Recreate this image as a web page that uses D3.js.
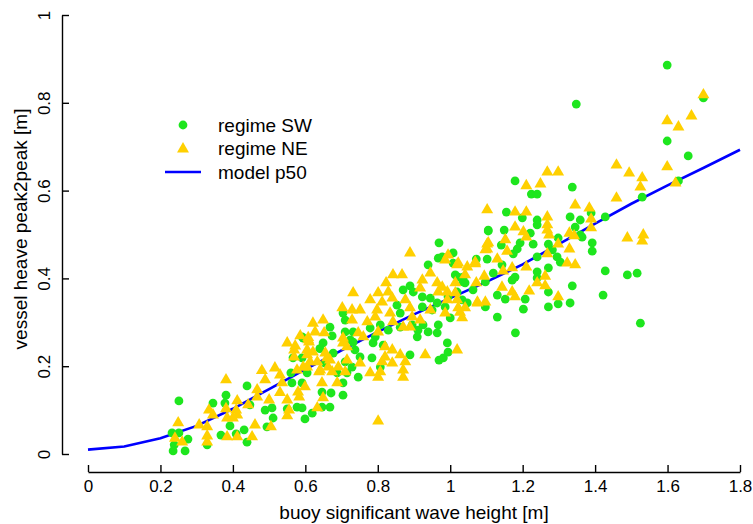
<!DOCTYPE html>
<html>
<head>
<meta charset="utf-8">
<script src="https://cdn.jsdelivr.net/npm/d3@7"></script>
<style>
  body { margin: 0; background: #fff; }
  text { font-family: "Liberation Sans", Arial, sans-serif; font-size: 19px; fill: #000; }
</style>
</head>
<body>
<svg id="chart"></svg>
<script>
// regime SW (green circles)
var swX = [0.251,0.232,0.251,0.276,0.238,0.235,0.268,0.329,0.345,0.381,0.378,0.367,0.392,0.409,0.431,0.439,0.439,0.447,0.489,0.511,
  0.508,0.494,0.550,0.577,0.591,0.599,0.619,0.646,0.668,0.671,0.646,0.591,0.605,0.563,0.704,0.715,0.704,0.649,0.674,0.591,
  0.591,0.566,0.710,0.969,1.105,0.939,0.967,1.008,1.072,1.036,1.014,1.119,1.130,1.097,0.889,0.898,0.923,0.945,0.923,0.950,
  0.964,0.986,0.994,1.019,1.033,1.041,0.895,0.911,0.925,0.939,0.909,0.967,0.964,0.992,0.981,0.969,0.994,0.889,0.862,0.862,
  0.853,0.829,0.807,0.793,0.779,0.787,0.815,0.784,0.807,0.751,0.737,0.732,0.732,0.724,0.710,0.729,0.746,0.710,0.704,0.677,
  0.655,0.688,0.594,0.668,0.870,1.008,1.141,1.179,1.224,1.240,1.337,1.155,1.199,1.240,1.240,1.105,1.149,1.221,1.229,1.193,
  1.185,1.174,1.143,1.102,1.240,1.271,1.298,1.282,1.295,1.304,1.331,1.359,1.345,1.364,1.392,1.392,1.428,1.428,1.489,1.516,
  1.422,1.337,1.271,1.240,1.240,1.271,1.271,1.298,1.331,1.202,1.207,1.171,1.179,1.097,1.130,1.152,1.063,1.047,1.022,1.036,
  1.000,0.978,1.525,1.599,1.599,1.657,1.699,1.630,1.530,1.389,1.359,1.348,1.180,0.640,0.560];
var swY = [0.121,0.048,0.048,0.034,0.021,0.007,0.007,0.021,0.116,0.134,0.116,0.043,0.064,0.046,0.055,0.027,0.155,0.112,0.100,0.082,
  0.105,0.062,0.103,0.107,0.105,0.080,0.093,0.107,0.107,0.139,0.141,0.162,0.185,0.162,0.162,0.185,0.134,0.253,0.269,0.267,
  0.219,0.219,0.278,0.481,0.508,0.431,0.446,0.435,0.444,0.403,0.408,0.412,0.312,0.335,0.383,0.369,0.358,0.355,0.335,0.328,
  0.344,0.335,0.358,0.369,0.351,0.390,0.294,0.282,0.294,0.278,0.267,0.294,0.276,0.253,0.219,0.214,0.232,0.226,0.289,0.321,
  0.339,0.282,0.294,0.267,0.287,0.253,0.248,0.219,0.198,0.221,0.237,0.255,0.278,0.260,0.210,0.198,0.175,0.305,0.321,0.230,
  0.207,0.185,0.264,0.289,0.374,0.458,0.476,0.622,0.592,0.592,0.608,0.551,0.538,0.533,0.522,0.510,0.510,0.503,0.478,0.481,
  0.467,0.456,0.431,0.444,0.449,0.478,0.492,0.465,0.449,0.437,0.540,0.533,0.517,0.494,0.481,0.462,0.540,0.417,0.408,0.412,
  0.362,0.383,0.424,0.415,0.401,0.369,0.335,0.342,0.344,0.330,0.353,0.396,0.403,0.392,0.362,0.353,0.374,0.344,0.403,0.392,
  0.310,0.449,0.298,0.886,0.713,0.679,0.811,0.622,0.585,0.549,0.499,0.797,0.276,0.240,0.185];

// regime NE (gold triangles)
var neX = [0.249,0.240,0.260,0.307,0.329,0.329,0.329,0.334,0.345,0.381,0.381,0.384,0.412,0.409,0.412,0.400,0.384,0.412,0.453,0.461,
  0.442,0.467,0.467,0.489,0.500,0.505,0.516,0.530,0.536,0.550,0.550,0.555,0.550,0.569,0.569,0.577,0.580,0.583,0.599,0.605,
  0.605,0.610,0.627,0.621,0.633,0.638,0.646,0.649,0.633,0.652,0.655,0.668,0.674,0.688,0.691,0.704,0.715,0.710,0.889,0.842,
  0.867,0.823,0.829,0.801,0.840,0.876,0.779,0.812,0.751,0.732,0.729,0.702,0.729,0.771,0.798,0.793,0.834,0.842,0.870,0.889,
  0.889,0.895,0.917,0.945,0.917,0.923,0.945,0.964,0.967,0.992,0.992,1.014,1.019,1.027,1.033,1.041,1.069,1.022,1.047,0.994,
  0.986,1.041,1.075,1.097,1.094,1.102,1.097,0.621,0.649,0.608,0.605,0.613,0.660,0.663,0.641,0.594,0.704,0.715,0.746,0.760,
  0.801,0.820,0.840,0.820,0.862,0.812,0.840,0.807,0.876,0.870,0.870,0.931,1.019,0.751,0.779,0.801,1.268,1.298,1.210,1.249,
  1.459,1.494,1.459,1.345,1.384,1.102,1.179,1.210,1.268,1.389,1.389,1.179,1.202,1.268,1.268,1.273,1.329,1.342,1.210,1.489,
  1.152,1.105,1.102,1.157,1.298,1.329,1.268,1.130,1.323,1.345,1.210,1.171,1.146,1.069,1.019,1.072,1.143,1.171,1.179,1.218,
  1.240,1.262,1.262,1.298,1.075,1.014,0.978,1.022,0.986,1.699,1.599,1.630,1.666,1.530,1.525,1.599,1.622,1.533,1.530,0.801,
  0.572,0.586,0.608,0.530,0.480];
var neY = [0.071,0.036,0.027,0.066,0.062,0.041,0.027,0.100,0.089,0.169,0.103,0.082,0.121,0.100,0.089,0.082,0.039,0.039,0.039,0.066,
  0.112,0.146,0.130,0.169,0.123,0.062,0.196,0.180,0.162,0.123,0.087,0.100,0.253,0.237,0.221,0.191,0.141,0.130,0.153,0.226,
  0.198,0.255,0.278,0.232,0.210,0.187,0.162,0.128,0.105,0.276,0.230,0.214,0.187,0.162,0.198,0.253,0.214,0.187,0.458,0.408,
  0.408,0.390,0.369,0.367,0.355,0.351,0.351,0.346,0.328,0.367,0.328,0.333,0.305,0.301,0.328,0.312,0.321,0.301,0.289,0.289,
  0.333,0.312,0.305,0.328,0.378,0.396,0.412,0.390,0.369,0.369,0.351,0.390,0.351,0.323,0.310,0.333,0.437,0.435,0.426,0.453,
  0.442,0.408,0.346,0.346,0.405,0.478,0.465,0.298,0.305,0.260,0.237,0.210,0.219,0.198,0.191,0.198,0.264,0.244,0.276,0.267,
  0.278,0.244,0.237,0.221,0.226,0.210,0.207,0.187,0.210,0.191,0.175,0.226,0.237,0.207,0.185,0.175,0.642,0.642,0.611,0.615,
  0.658,0.640,0.583,0.567,0.560,0.556,0.551,0.551,0.540,0.535,0.515,0.517,0.506,0.522,0.510,0.499,0.503,0.497,0.494,0.492,
  0.488,0.481,0.467,0.462,0.478,0.467,0.456,0.444,0.435,0.431,0.426,0.424,0.417,0.433,0.431,0.390,0.380,0.369,0.358,0.371,
  0.390,0.405,0.383,0.358,0.344,0.367,0.380,0.333,0.321,0.818,0.759,0.745,0.770,0.629,0.608,0.654,0.617,0.499,0.485,0.075,
  0.246,0.269,0.265,0.140,0.190];

// model p50 curve
var modelX = [0, 0.1, 0.2, 0.3, 0.4, 0.5, 0.6, 0.7, 0.8, 0.9, 1.0, 1.1, 1.2, 1.3, 1.4, 1.5, 1.6, 1.7, 1.8];
var modelY = [0.010, 0.017, 0.036, 0.064, 0.103, 0.148, 0.193, 0.236, 0.278, 0.318, 0.355, 0.392, 0.432, 0.478, 0.525, 0.570, 0.612, 0.652, 0.693];

var xTicks = [0, 0.2, 0.4, 0.6, 0.8, 1, 1.2, 1.4, 1.6, 1.8];
var yTicks = [0, 0.2, 0.4, 0.6, 0.8, 1];
var legendLabels = ["regime SW", "regime NE", "model p50"];

var width = 753, height = 524;
var green = "#1ee61e", gold = "#ffd000", blue = "#0000ff";

var svg = d3.select("#chart").attr("width", width).attr("height", height);

var x = d3.scaleLinear().domain([0, 1.8]).range([88, 740]);
var y = d3.scaleLinear().domain([0, 1]).range([454, 15]);

// x axis (ticks point up, detached from plot)
var xAxis = svg.append("g")
  .attr("transform", "translate(0,472)")
  .call(d3.axisBottom(x).tickValues(xTicks).tickSize(-7).tickSizeOuter(0).tickPadding(8)
    .tickFormat(d3.format("~g")));
xAxis.selectAll("text").style("font-size", "17px").attr("fill", "#000");

// y axis (ticks point right, labels rotated)
var yAxis = svg.append("g")
  .attr("transform", "translate(62,0)")
  .call(d3.axisLeft(y).tickValues(yTicks).tickSize(-7).tickSizeOuter(0).tickFormat(d3.format("~g")));
yAxis.selectAll("text")
  .attr("transform", "rotate(-90)")
  .attr("x", 0).attr("y", -12).attr("dy", 0)
  .attr("text-anchor", "middle")
  .style("font-size", "17px").attr("fill", "#000");

svg.selectAll(".domain, .tick line").attr("stroke", "#000").attr("stroke-width", 1.4);

// axis titles
svg.append("text")
  .attr("x", x(0.9)).attr("y", 519)
  .attr("text-anchor", "middle")
  .text("buoy significant wave height [m]");
svg.append("text")
  .attr("transform", "translate(27,229) rotate(-90)")
  .attr("text-anchor", "middle")
  .text("vessel heave peak2peak [m]");

// model line
var line = d3.line().x(function (d) { return x(d[0]); }).y(function (d) { return y(d[1]); });
svg.append("path")
  .datum(modelX.map(function (v, i) { return [v, modelY[i]]; }))
  .attr("d", line)
  .attr("fill", "none")
  .attr("stroke", blue)
  .attr("stroke-width", 2.6);

var tri = d3.symbol().type(d3.symbolTriangle).size(62);

// points
svg.append("g").selectAll("circle")
  .data(swX.map(function (v, i) { return [v, swY[i]]; }))
  .enter().append("circle")
  .attr("cx", function (d) { return x(d[0]); })
  .attr("cy", function (d) { return y(d[1]); })
  .attr("r", 4.4)
  .attr("fill", green);

svg.append("g").selectAll("path")
  .data(neX.map(function (v, i) { return [v, neY[i]]; }))
  .enter().append("path")
  .attr("d", tri)
  .attr("transform", function (d) { return "translate(" + x(d[0]) + "," + y(d[1]) + ")"; })
  .attr("fill", gold);

// legend
var lg = svg.append("g");
lg.append("circle").attr("cx", 183).attr("cy", 125).attr("r", 4.4).attr("fill", green);
lg.append("path").attr("d", tri).attr("transform", "translate(183,149)").attr("fill", gold);
lg.append("line").attr("x1", 165).attr("x2", 201).attr("y1", 172).attr("y2", 172)
  .attr("stroke", blue).attr("stroke-width", 2.6);
lg.selectAll("text")
  .data(legendLabels)
  .enter().append("text")
  .attr("x", 218)
  .attr("y", function (d, i) { return 125 + i * 23.5; })
  .attr("dy", "0.35em")
  .text(function (d) { return d; });
</script>
</body>
</html>
